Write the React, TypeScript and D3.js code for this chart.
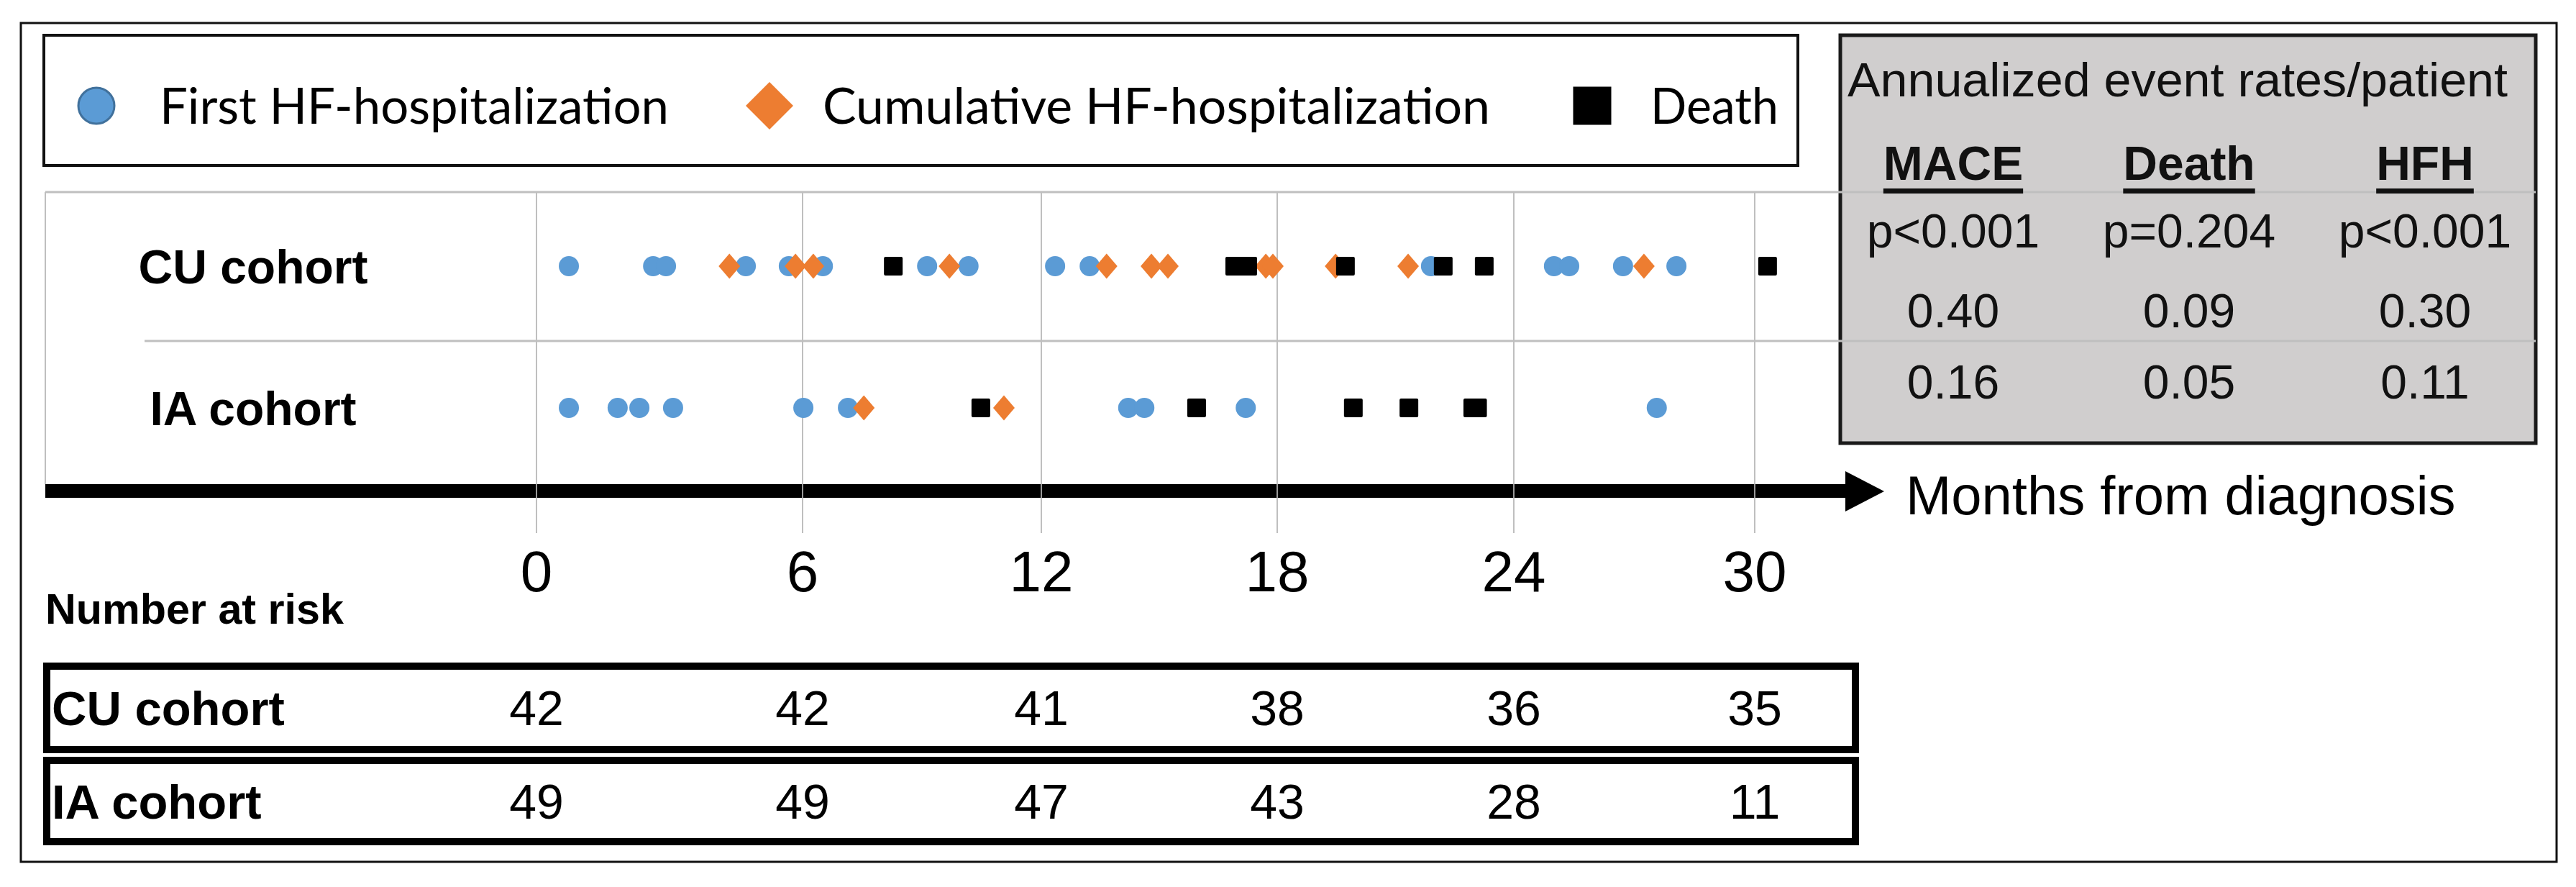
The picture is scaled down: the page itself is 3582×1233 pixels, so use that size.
import React, { useEffect, useRef } from "react";
import * as d3 from "d3";

// months on the time axis
const monthTicks = [0, 6, 12, 18, 24, 30];
const cohorts = ["CU cohort", "IA cohort"];

// event times (months from diagnosis)
const cuFirstHF = [0.73, 2.63, 2.92, 4.72, 5.69, 6.51, 9.13, 10.17, 12.35, 13.23, 21.9, 25.0, 25.38, 26.72, 28.05];
const cuCumulativeHF = [4.35, 5.84, 6.27, 9.69, 13.66, 14.8, 15.22, 17.71, 17.89, 19.48, 21.32, 27.24];
const cuDeath = [8.28, 16.92, 17.25, 19.73, 22.21, 23.25, 30.32];

const iaFirstHF = [0.73, 1.83, 2.32, 3.08, 6.02, 7.14, 14.21, 14.62, 17.2, 27.56];
const iaCumulativeHF = [7.54, 11.06];
const iaDeath = [10.48, 15.95, 19.93, 21.34, 22.96, 23.08];

// number at risk
const atRiskCU = [42, 42, 41, 38, 36, 35];
const atRiskIA = [49, 49, 47, 43, 28, 11];

const legendLabels = ["First HF-hospitalization", "Cumulative HF-hospitalization", "Death"];

// annualized event rates table
const rateTitle = "Annualized event rates/patient";
const rateHeaders = ["MACE", "Death", "HFH"];
const rateP = ["p<0.001", "p=0.204", "p<0.001"];
const rateCU = ["0.40", "0.09", "0.30"];
const rateIA = ["0.16", "0.05", "0.11"];

const BLUE = "#5B9BD5";
const ORANGE = "#ED7D31";
const BLACK = "#000000";
const GRID = "#BFBFBF";
const SANS = "'Liberation Sans', Arial, sans-serif";
const LEG = "Lato, 'Open Sans', sans-serif";

type Kind = "first" | "cum" | "death";

export default function App() {
  const ref = useRef<SVGSVGElement>(null);

  useEffect(() => {
    document.body.style.margin = "0";
    if (!ref.current) return;
    const svg = d3.select(ref.current);
    svg.selectAll("*").remove();

    // the gridlines are not evenly spaced in the original, so piecewise
    const x = d3.scaleLinear().domain(monthTicks).range([746, 1116, 1448, 1776, 2105, 2440]);
    const y = d3.scalePoint<string>().domain(cohorts).range([370, 567]);

    const drawMarker = (g: any, kind: Kind, cx: number, cy: number, big = false) => {
      if (kind === "first") {
        g.append("circle")
          .attr("cx", cx).attr("cy", cy)
          .attr("r", big ? 25 : 14)
          .attr("fill", BLUE)
          .attr("stroke", big ? "#41719C" : "none")
          .attr("stroke-width", 3);
      } else if (kind === "cum") {
        const w = big ? 33 : 15;
        const h = big ? 33 : 17.5;
        g.append("path")
          .attr("d", `M0,${-h}L${w},0L0,${h}L${-w},0Z`)
          .attr("transform", `translate(${cx},${cy})`)
          .attr("fill", ORANGE);
      } else {
        const s = big ? 53 : 26;
        g.append("rect")
          .attr("x", cx - s / 2).attr("y", cy - s / 2)
          .attr("width", s).attr("height", s)
          .attr("rx", big ? 0 : 2)
          .attr("fill", BLACK);
      }
    };

    // outer frame
    svg.append("rect")
      .attr("x", 29).attr("y", 32).attr("width", 3526).attr("height", 1166)
      .attr("fill", "#fff").attr("stroke", "#111").attr("stroke-width", 3);

    // legend
    svg.append("rect")
      .attr("x", 61).attr("y", 49).attr("width", 2439).attr("height", 181)
      .attr("fill", "none").attr("stroke", "#111").attr("stroke-width", 4);
    const legendItems: { kind: Kind; mx: number; tx: number; tw: number }[] = [
      { kind: "first", mx: 134, tx: 222, tw: 708 },
      { kind: "cum", mx: 1070, tx: 1144, tw: 928 },
      { kind: "death", mx: 2214, tx: 2295, tw: 178 },
    ];
    const leg = svg.append("g");
    legendItems.forEach((it, i) => {
      drawMarker(leg, it.kind, it.mx, 147, true);
      leg.append("text")
        .attr("x", it.tx).attr("y", 172)
        .attr("font-family", LEG).attr("font-size", 70)
        .attr("textLength", it.tw).attr("lengthAdjust", "spacingAndGlyphs")
        .attr("fill", "#000")
        .text(legendLabels[i]);
    });

    // gray rates box (drawn under the plot lines)
    svg.append("rect")
      .attr("x", 2559).attr("y", 49).attr("width", 967).attr("height", 567)
      .attr("fill", "#D0CECE").attr("stroke", "#1a1a1a").attr("stroke-width", 5);

    // plot frame lines
    svg.append("line").attr("x1", 63).attr("x2", 3526).attr("y1", 267).attr("y2", 267)
      .attr("stroke", GRID).attr("stroke-width", 3);
    svg.append("line").attr("x1", 201).attr("x2", 3526).attr("y1", 474).attr("y2", 474)
      .attr("stroke", GRID).attr("stroke-width", 3);
    svg.append("line").attr("x1", 63).attr("x2", 63).attr("y1", 267).attr("y2", 673)
      .attr("stroke", GRID).attr("stroke-width", 2);

    // vertical gridlines
    svg.append("g").selectAll("line").data(monthTicks).join("line")
      .attr("x1", (d) => x(d)).attr("x2", (d) => x(d))
      .attr("y1", 267).attr("y2", 741)
      .attr("stroke", GRID).attr("stroke-width", 2);

    // cohort labels in plot
    svg.append("g").selectAll("text").data(cohorts).join("text")
      .attr("x", 352).attr("y", (d) => (y(d) as number) + 24)
      .attr("text-anchor", "middle")
      .attr("font-family", SANS).attr("font-weight", "bold").attr("font-size", 66)
      .text((d) => d);

    // events
    const series: { cohort: string; kind: Kind; values: number[] }[] = [
      { cohort: "CU cohort", kind: "first", values: cuFirstHF },
      { cohort: "IA cohort", kind: "first", values: iaFirstHF },
      { cohort: "CU cohort", kind: "cum", values: cuCumulativeHF },
      { cohort: "IA cohort", kind: "cum", values: iaCumulativeHF },
      { cohort: "CU cohort", kind: "death", values: cuDeath },
      { cohort: "IA cohort", kind: "death", values: iaDeath },
    ];
    const marks = svg.append("g");
    series.forEach((s) => {
      s.values.forEach((v) => drawMarker(marks, s.kind, x(v), y(s.cohort) as number));
    });

    // time arrow
    svg.append("rect").attr("x", 63).attr("y", 673).attr("width", 2503).attr("height", 19).attr("fill", "#000");
    svg.append("path").attr("d", "M2566,655L2620,683L2566,711Z").attr("fill", "#000");
    // gridlines show through the arrow shaft
    svg.append("g").selectAll("line").data(monthTicks).join("line")
      .attr("x1", (d) => x(d)).attr("x2", (d) => x(d))
      .attr("y1", 673).attr("y2", 692)
      .attr("stroke", "#9a9a9a").attr("stroke-width", 2);
    svg.append("text")
      .attr("x", 2650).attr("y", 715)
      .attr("font-family", SANS).attr("font-size", 76)
      .text("Months from diagnosis");

    // tick labels
    svg.append("g").selectAll("text").data(monthTicks).join("text")
      .attr("x", (d) => x(d)).attr("y", 822)
      .attr("text-anchor", "middle")
      .attr("font-family", SANS).attr("font-size", 80)
      .text((d) => String(d));

    // number at risk
    svg.append("text")
      .attr("x", 63).attr("y", 867)
      .attr("font-family", SANS).attr("font-weight", "bold").attr("font-size", 59)
      .attr("textLength", 415).attr("lengthAdjust", "spacingAndGlyphs")
      .text("Number at risk");

    const riskRows = [
      { label: cohorts[0], values: atRiskCU, top: 926, h: 116, base: 1008 },
      { label: cohorts[1], values: atRiskIA, top: 1057, h: 113, base: 1138 },
    ];
    riskRows.forEach((r) => {
      svg.append("rect")
        .attr("x", 65).attr("y", r.top).attr("width", 2515).attr("height", r.h)
        .attr("fill", "none").attr("stroke", "#000").attr("stroke-width", 10);
      svg.append("text")
        .attr("x", 72).attr("y", r.base)
        .attr("font-family", SANS).attr("font-weight", "bold").attr("font-size", 67)
        .text(r.label);
      svg.append("g").selectAll("text").data(r.values).join("text")
        .attr("x", (_d, i) => x(monthTicks[i])).attr("y", r.base)
        .attr("text-anchor", "middle")
        .attr("font-family", SANS).attr("font-size", 68)
        .text((d) => String(d));
    });

    // rates table
    const col = d3.scalePoint<string>().domain(rateHeaders).range([2716, 3372]);
    const tbl = svg.append("g").attr("font-family", SANS).attr("fill", "#111");
    tbl.append("text")
      .attr("x", 3028).attr("y", 134).attr("text-anchor", "middle")
      .attr("font-size", 66).attr("textLength", 918).attr("lengthAdjust", "spacingAndGlyphs")
      .text(rateTitle);
    rateHeaders.forEach((h) => {
      const t = tbl.append("text")
        .attr("x", col(h) as number).attr("y", 250).attr("text-anchor", "middle")
        .attr("font-size", 66).attr("font-weight", "bold")
        .text(h);
      const w = (t.node() as SVGTextElement).getComputedTextLength();
      tbl.append("rect")
        .attr("x", (col(h) as number) - w / 2).attr("y", 262)
        .attr("width", w).attr("height", 7).attr("fill", "#111");
    });
    const tableRows = [
      { values: rateP, base: 344 },
      { values: rateCU, base: 455 },
      { values: rateIA, base: 554 },
    ];
    tableRows.forEach((r) => {
      tbl.append("g").selectAll("text").data(r.values).join("text")
        .attr("x", (_d, i) => col(rateHeaders[i]) as number).attr("y", r.base)
        .attr("text-anchor", "middle").attr("font-size", 66)
        .text((d) => d);
    });
  }, []);

  return <svg ref={ref} width={3582} height={1233} style={{ display: "block", background: "#fff" }} />;
}
